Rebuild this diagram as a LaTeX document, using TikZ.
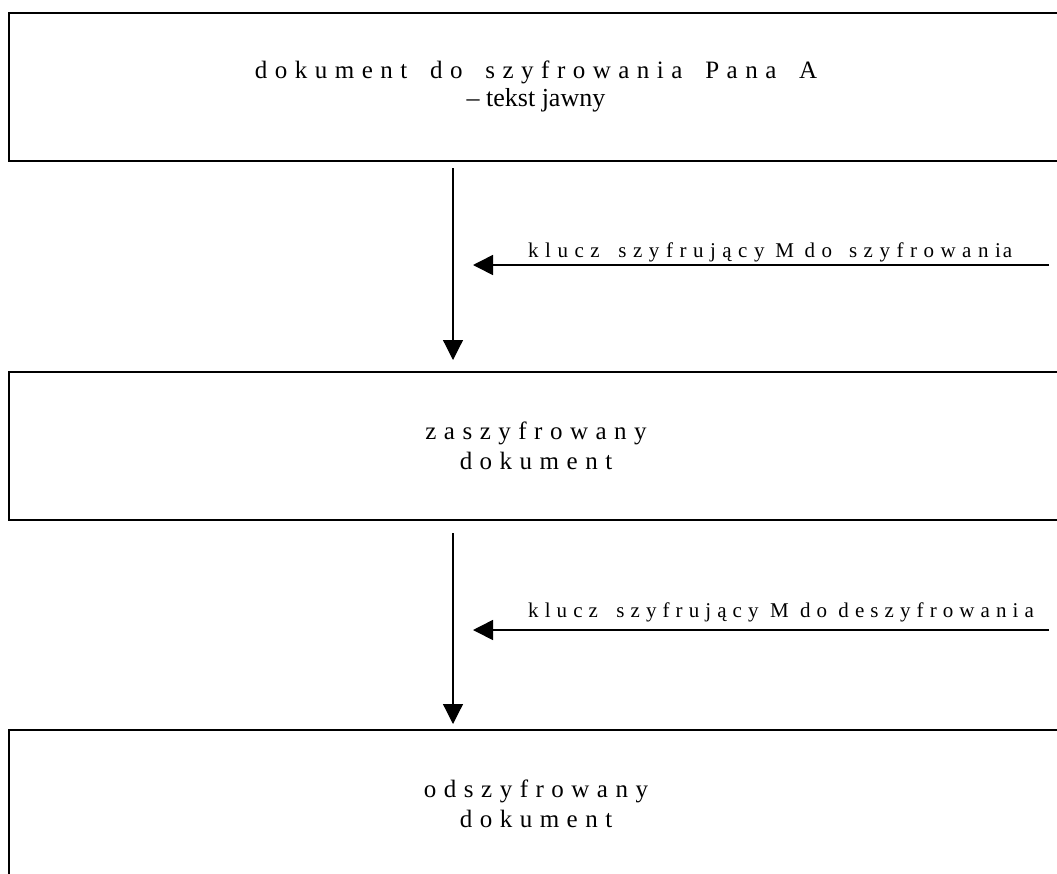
\documentclass[tikz,border=0pt]{standalone}
\usepackage{fontspec}
\setmainfont{Liberation Serif}
\newfontfamily\boxfont[LetterSpace=30]{Liberation Serif}
\newfontfamily\labfontA[LetterSpace=31]{Liberation Serif}
\newfontfamily\labfontB[LetterSpace=29]{Liberation Serif}
\usetikzlibrary{arrows.meta}
\tikzset{
  docbox/.style={draw, line width=2pt, minimum width=1054pt, minimum height=148pt,
    inner sep=0pt, align=center, font={\boxfont\fontsize{25}{30}\selectfont}},
  flow/.style={line width=1.2pt, -{Triangle[length=20pt,width=20pt]}},
  keyarrow/.style={line width=1.6pt, -{Triangle[length=20pt,width=20pt]}},
  keylabel/.style={anchor=base west, inner sep=0pt},
}
\begin{document}
\begin{tikzpicture}[x=1pt,y=-1pt]
\useasboundingbox (0,0) rectangle (1057,873);
\clip (0,0) rectangle (1057,873);
\fill[white] (0,0) rectangle (1057,873);

\node[docbox] (box1) at (536,87) {dokument\hspace{9pt} do\hspace{9pt} szyfrowania\hspace{9pt} Pana\hspace{9pt} A\\[-2pt]{\rmfamily\fontsize{26}{30}\selectfont – tekst jawny}};
\node[docbox] (box2) at (536,446) {zaszyfrowany\\dokument};
\node[docbox] (box3) at (536,804) {odszyfrowany\\dokument};

\coordinate (vx) at (453,0);
\draw[flow, shorten <=6pt, shorten >=11pt] (box1.south -| vx) -- (box2.north -| vx);
\draw[flow, shorten <=12pt, shorten >=5pt] (box2.south -| vx) -- (box3.north -| vx);

\coordinate (k1s) at (1049,265);
\coordinate (k1e) at (473,265);
\draw[keyarrow] (k1s) -- (k1e);
\node[keylabel, font={\labfontA\fontsize{21}{25}\selectfont}] (lab1) at (528,257)
  {klucz\hspace{7pt} szyfrujący\hspace{-1pt} M\hspace{-1pt} do\hspace{5pt} szyfrowani\hspace{2pt}a};

\coordinate (k2s) at (1049,630);
\coordinate (k2e) at (473,630);
\draw[keyarrow] (k2s) -- (k2e);
\node[keylabel, font={\labfontB\fontsize{21}{25}\selectfont}] (lab2) at (528,617)
  {klucz\hspace{7pt} szyfrujący M do deszyfrowania};
\end{tikzpicture}
\end{document}
